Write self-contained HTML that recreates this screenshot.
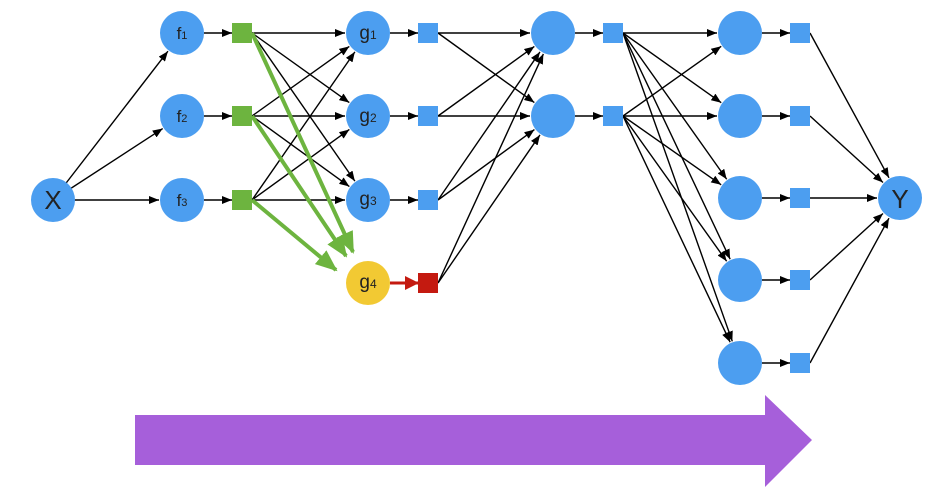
<!DOCTYPE html>
<html><head><meta charset="utf-8"><style>
html,body{margin:0;padding:0;background:#fff;}
svg{display:block;}
text{font-family:"Liberation Sans",sans-serif;fill:#222;}
</style></head><body>
<svg id="s" width="926" height="495" viewBox="0 0 926 495" xmlns="http://www.w3.org/2000/svg">
<defs>
<marker id="a" markerWidth="10" markerHeight="8" refX="10" refY="4" orient="auto" markerUnits="userSpaceOnUse"><path d="M0,0 L10,4 L0,8 z" fill="#000"/></marker>
<marker id="g" markerWidth="22" markerHeight="18" refX="20" refY="9" orient="auto" markerUnits="userSpaceOnUse"><path d="M0,0 L22,9 L0,18 z" fill="#6DB43F"/></marker>
<marker id="r" markerWidth="14" markerHeight="14" refX="13" refY="7" orient="auto" markerUnits="userSpaceOnUse"><path d="M0,0 L14,7 L0,14 z" fill="#C41A10"/></marker>
</defs>
<g id="lines"></g>
<g id="shapes"></g>
<polygon points="135,415 765,415 765,395 812,440 765,487 765,465 135,465" fill="#A65FDA"/>
<g id="labels">
<text x="53" y="209" font-size="26" text-anchor="middle">X</text>
<text x="900" y="208" font-size="26" text-anchor="middle">Y</text>
<text x="182" y="39" font-size="17" text-anchor="middle">f<tspan font-size="11">1</tspan></text>
<text x="182" y="122" font-size="17" text-anchor="middle">f<tspan font-size="11">2</tspan></text>
<text x="182" y="206" font-size="17" text-anchor="middle">f<tspan font-size="11">3</tspan></text>
<text x="368" y="39" font-size="19" text-anchor="middle">g<tspan font-size="12">1</tspan></text>
<text x="368" y="122" font-size="19" text-anchor="middle">g<tspan font-size="12">2</tspan></text>
<text x="368" y="205" font-size="19" text-anchor="middle">g<tspan font-size="12">3</tspan></text>
<text x="368" y="288" font-size="19" text-anchor="middle">g<tspan font-size="12">4</tspan></text>
</g>
</svg>
<script>
var NS="http://www.w3.org/2000/svg";
var L=document.getElementById('lines'),S=document.getElementById('shapes');
function el(p,t,a){var e=document.createElementNS(NS,t);for(var k in a)e.setAttribute(k,a[k]);p.appendChild(e);return e;}
var R=22,H=10,B="#4C9EF0";
function circ(x,y,c){el(S,'circle',{cx:x,cy:y,r:R,fill:c||B});}
function sq(x,y,c){el(S,'rect',{x:x-H,y:y-H,width:20,height:20,fill:c||B});}
function arr(x1,y1,x2,y2,rr,m,col,w){var dx=x2-x1,dy=y2-y1,d=Math.hypot(dx,dy);
 el(L,'line',{x1:x1,y1:y1,x2:x2-dx/d*rr,y2:y2-dy/d*rr,stroke:col||'#000','stroke-width':w||1.4,'marker-end':'url(#'+(m||'a')+')'});}
var X=[53,200],F=[[182,33],[182,116],[182,200]],G=[[368,33],[368,116],[368,200]],G4=[368,283];
var GS=[[242,33],[242,116],[242,200]],BS=[[428,33],[428,116],[428,200]],RS=[428,283];
var M=[[553,33],[553,116]],MS=[[613,33],[613,116]];
var C=[[740,33],[740,116],[740,198],[740,280],[740,363]],CS=C.map(function(c){return [800,c[1]];});
var Y=[900,198];
F.forEach(function(f){arr(X[0],X[1],f[0],f[1],R+1);});
F.forEach(function(f,i){arr(f[0]+R,f[1],GS[i][0]-H,GS[i][1],0);});
GS.forEach(function(s){G.forEach(function(g){arr(s[0]+H,s[1],g[0],g[1],R+1);});});
var GT=[[353,252],[346,256],[336,270]];
GS.forEach(function(s,i){arr(s[0]+H,s[1],GT[i][0],GT[i][1],0,'g','#6DB43F',4);});
G.forEach(function(g,i){arr(g[0]+R,g[1],BS[i][0]-H,BS[i][1],0);});
arr(G4[0]+R,G4[1],RS[0]-H,RS[1],0,'r','#C41A10',3);
BS.concat([RS]).forEach(function(s){M.forEach(function(m){arr(s[0]+H,s[1],m[0],m[1],R+1);});});
M.forEach(function(m,i){arr(m[0]+R,m[1],MS[i][0]-H,MS[i][1],0);});
MS.forEach(function(s){C.forEach(function(c){arr(s[0]+H,s[1],c[0],c[1],R+1);});});
C.forEach(function(c,i){arr(c[0]+R,c[1],CS[i][0]-H,CS[i][1],0);});
CS.forEach(function(s){arr(s[0]+H,s[1],Y[0],Y[1],R+1);});
circ(X[0],X[1]);F.forEach(function(f){circ(f[0],f[1]);});G.forEach(function(g){circ(g[0],g[1]);});
circ(G4[0],G4[1],'#F2C933');M.forEach(function(m){circ(m[0],m[1]);});C.forEach(function(c){circ(c[0],c[1]);});circ(Y[0],Y[1]);
GS.forEach(function(s){sq(s[0],s[1],'#6DB43F');});BS.forEach(function(s){sq(s[0],s[1]);});sq(RS[0],RS[1],'#C41A10');
MS.forEach(function(s){sq(s[0],s[1]);});CS.forEach(function(s){sq(s[0],s[1]);});
</script>
</body></html>
